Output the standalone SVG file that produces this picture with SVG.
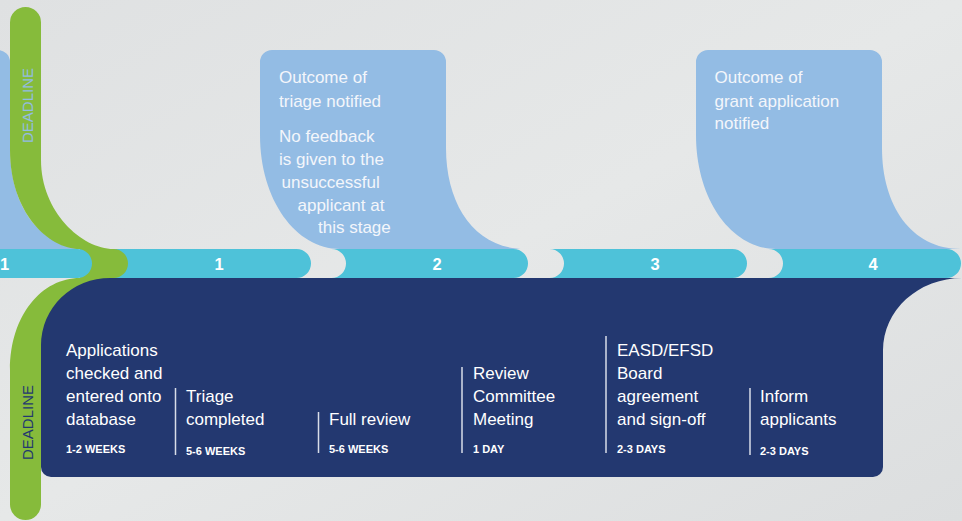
<svg xmlns="http://www.w3.org/2000/svg" width="962" height="521" viewBox="0 0 962 521">
<defs>
<linearGradient id="bg" x1="0" y1="0" x2="1" y2="1">
<stop offset="0" stop-color="#dfe1e2"/>
<stop offset="0.5" stop-color="#e6e8e8"/>
<stop offset="1" stop-color="#dcdedf"/>
</linearGradient>
<style>
.callout{fill:#93bce4}
.seg{fill:#4ec2d9}
.green{fill:#86bb3b}
.navy{fill:#233870}
.num{font-family:"Liberation Sans",Arial,sans-serif;font-weight:bold;font-size:16.5px;fill:#ffffff;text-anchor:middle}
.body{font-family:"Liberation Sans",Arial,sans-serif;font-size:17px;fill:#ffffff}
.ctext{font-family:"Liberation Sans",Arial,sans-serif;font-size:17px;fill:#f3f6fb}
.dur{font-family:"Liberation Sans",Arial,sans-serif;font-weight:bold;font-size:11px;fill:#ffffff}
.div{stroke:#d8dde8;stroke-width:1.5}
.dl{font-family:"Liberation Sans",Arial,sans-serif;font-size:15px;text-anchor:middle}
</style>
</defs>
<rect width="962" height="521" fill="url(#bg)"/>

<g id="callout-0">
<path class="callout" d="M-176,62 A12,12 0 0 1 -164,50 L-2,50 A12,12 0 0 1 10,62 L10,148 C10,205 39,249 89,249 L-96,249 C-140,249 -176,200 -176,135 Z"/>
</g>
<g id="callout-2">
<path class="callout" d="M260,62 A12,12 0 0 1 272,50 L434,50 A12,12 0 0 1 446,62 L446,148 C446,205 475,249 525,249 L340,249 C296,249 260,200 260,135 Z"/>
<text class="ctext" x="279" y="83">Outcome of</text>
<text class="ctext" x="279" y="106.5">triage notified</text>
<text class="ctext" x="279" y="142">No feedback</text>
<text class="ctext" x="279" y="165">is given to the</text>
<text class="ctext" x="281.5" y="187.5">unsuccessful</text>
<text class="ctext" x="297.5" y="210.5">applicant at</text>
<text class="ctext" x="318" y="233">this stage</text>
</g>
<g id="callout-4">
<path class="callout" d="M696,62 A12,12 0 0 1 708,50 L870,50 A12,12 0 0 1 882,62 L882,148 C882,205 911,249 961,249 L776,249 C732,249 696,200 696,135 Z"/>
<text class="ctext" x="714.5" y="83">Outcome of</text>
<text class="ctext" x="714.5" y="106.5">grant application</text>
<text class="ctext" x="714.5" y="129">notified</text>
</g>

<g id="segment-1">
<path class="seg" d="M100,249 L296.5,249 A14.5,14.5 0 0 1 296.5,278 L100,278 Z"/>
</g>
<g id="segment-2">
<path class="seg" d="M331.5,249 L513.5,249 A14.5,14.5 0 0 1 513.5,278 L331.5,278 A14.5,14.5 0 0 0 331.5,249 Z"/>
</g>
<g id="segment-3">
<path class="seg" d="M549.5,249 L732.5,249 A14.5,14.5 0 0 1 732.5,278 L549.5,278 A14.5,14.5 0 0 0 549.5,249 Z"/>
</g>
<g id="segment-4">
<path class="seg" d="M768.5,249 L946.5,249 A14.5,14.5 0 0 1 946.5,278 L768.5,278 A14.5,14.5 0 0 0 768.5,249 Z"/>
</g>

<g id="deadline-bar">
<path class="green" d="M10,22.5 A15.5,15.5 0 0 1 41,22.5 L41,160 C41,212 82,249 113.5,249 A14.5,14.5 0 0 1 113.5,278 L120,290 L120,360 L41,360 L41,504.5 A15.5,15.5 0 0 1 10,504.5 L10,370 C10,315 42,278 80,278 L80,249 C48,249 10,212 10,150 Z"/>
</g>

<g id="segment-0">
<path class="seg" d="M-10,249 L77.5,249 A14.5,14.5 0 0 1 77.5,278 L-10,278 Z"/>
</g>

<g id="process-panel">
<path class="navy" d="M41,345 A69,67 0 0 1 110,278 L962,278 A79,72 0 0 0 883,350 L883,467 A10,10 0 0 1 873,477 L51,477 A10,10 0 0 1 41,467 Z"/>
</g>

<g id="labels">
<text class="num" x="0" y="270" style="text-anchor:start">1</text>
<text class="num" x="219" y="270">1</text>
<text class="num" x="437" y="270">2</text>
<text class="num" x="655" y="270">3</text>
<text class="num" x="873" y="270">4</text>
<text class="dl" fill="#93bce4" transform="translate(32.5,105.5) rotate(-90)">DEADLINE</text>
<text class="dl" fill="#233870" transform="translate(32.5,422.5) rotate(-90)">DEADLINE</text>
</g>

<g id="step-1">
<text class="body" x="66" y="356">Applications</text>
<text class="body" x="66" y="379">checked and</text>
<text class="body" x="66" y="402">entered onto</text>
<text class="body" x="66" y="425">database</text>
<text class="dur" x="66" y="453">1-2 WEEKS</text>
</g>
<g id="step-2">
<line class="div" x1="175.5" y1="388" x2="175.5" y2="455"/>
<text class="body" x="186" y="402">Triage</text>
<text class="body" x="186" y="425">completed</text>
<text class="dur" x="186" y="454.5">5-6 WEEKS</text>
</g>
<g id="step-3">
<line class="div" x1="318.5" y1="412" x2="318.5" y2="453"/>
<text class="body" x="329" y="425">Full review</text>
<text class="dur" x="329" y="452.5">5-6 WEEKS</text>
</g>
<g id="step-4">
<line class="div" x1="462" y1="367" x2="462" y2="453"/>
<text class="body" x="473" y="378.5">Review</text>
<text class="body" x="473" y="401.5">Committee</text>
<text class="body" x="473" y="424.5">Meeting</text>
<text class="dur" x="473" y="452.5">1 DAY</text>
</g>
<g id="step-5">
<line class="div" x1="606" y1="336" x2="606" y2="453"/>
<text class="body" x="617" y="356">EASD/EFSD</text>
<text class="body" x="617" y="379">Board</text>
<text class="body" x="617" y="402">agreement</text>
<text class="body" x="617" y="425">and sign-off</text>
<text class="dur" x="617" y="452.5">2-3 DAYS</text>
</g>
<g id="step-6">
<line class="div" x1="750" y1="388" x2="750" y2="455"/>
<text class="body" x="760" y="402">Inform</text>
<text class="body" x="760" y="425">applicants</text>
<text class="dur" x="760" y="454.5">2-3 DAYS</text>
</g>
</svg>
